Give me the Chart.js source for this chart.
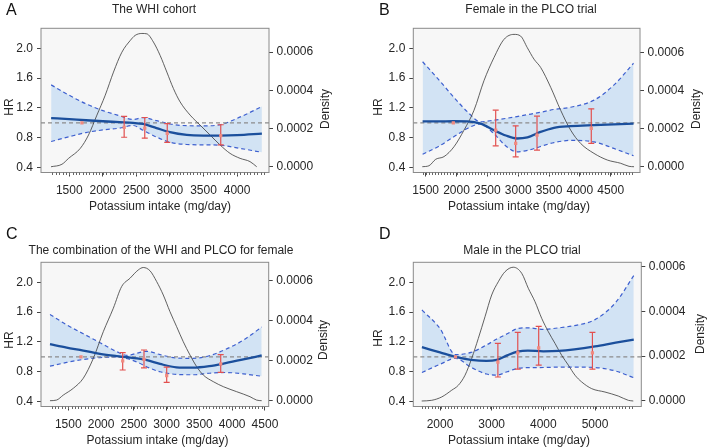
<!DOCTYPE html>
<html>
<head>
<meta charset="utf-8">
<script src="https://cdn.jsdelivr.net/npm/chart.js@4.4.1/dist/chart.umd.min.js"></script>
<style>
  html, body { margin: 0; padding: 0; background: #fff; }
  body { width: 707px; height: 448px; position: relative; overflow: hidden;
         font-family: "Liberation Sans", Arial, sans-serif; color: #262626; }
  canvas { position: absolute; }
  .txt { position: absolute; white-space: nowrap; font-size: 12px; line-height: 12px; }
  .ctr { transform: translateX(-50%); }
  .rot { transform: translate(-50%, -50%) rotate(-90deg); }
  .letter { position: absolute; font-size: 16px; line-height: 16px; color: #111; }
</style>
</head>
<body>
<canvas id="chartA" width="354" height="214" style="left:0;top:0"></canvas>
<canvas id="chartB" width="353" height="214" style="left:354px;top:0"></canvas>
<canvas id="chartC" width="354" height="214" style="left:0;top:234px"></canvas>
<canvas id="chartD" width="353" height="214" style="left:354px;top:234px"></canvas>

<div class="letter" style="left:6px;top:1.5px">A</div>
<div class="letter" style="left:379px;top:1.5px">B</div>
<div class="letter" style="left:6px;top:225.5px">C</div>
<div class="letter" style="left:379px;top:225.5px">D</div>

<div class="txt ctr" style="left:154px;top:3px">The WHI cohort</div>
<div class="txt ctr" style="left:531px;top:3px">Female in the PLCO trial</div>
<div class="txt ctr" style="left:161px;top:244px">The combination of the WHI and PLCO for female</div>
<div class="txt ctr" style="left:522px;top:244px">Male in the PLCO trial</div>

<div class="txt ctr" style="left:160px;top:200px">Potassium intake (mg/day)</div>
<div class="txt ctr" style="left:519px;top:200px">Potassium intake (mg/day)</div>
<div class="txt ctr" style="left:157.5px;top:433.5px">Potassium intake (mg/day)</div>
<div class="txt ctr" style="left:519px;top:433.5px">Potassium intake (mg/day)</div>

<div class="txt rot" style="left:9px;top:107px">HR</div>
<div class="txt rot" style="left:378px;top:107px">HR</div>
<div class="txt rot" style="left:9px;top:340px">HR</div>
<div class="txt rot" style="left:378px;top:338px">HR</div>

<div class="txt rot" style="left:325px;top:109px">Density</div>
<div class="txt rot" style="left:695.5px;top:109px">Density</div>
<div class="txt rot" style="left:322.5px;top:340px">Density</div>
<div class="txt rot" style="left:700px;top:334px">Density</div>

<script>
// tick labels
const hrTicks = [0.4, 0.8, 1.2, 1.6, 2.0];
const densityTicks = [0, 0.0002, 0.0004, 0.0006];
const intakeTicksA = [1500, 2000, 2500, 3000, 3500, 4000];
const intakeTicksB = [1500, 2000, 2500, 3000, 3500, 4000, 4500];
const intakeTicksC = [1500, 2000, 2500, 3000, 3500, 4000, 4500];
const intakeTicksD = [2000, 3000, 4000, 5000];

// A: The WHI cohort
const intakeA = [1230, 1500, 1750, 2000, 2250, 2450, 2600, 2800, 3000, 3250, 3500, 3750, 4000, 4370];
const hrA     = [1.065, 1.05, 1.035, 1.022, 1.01, 1.0, 0.985, 0.93, 0.875, 0.838, 0.83, 0.83, 0.835, 0.856];
const upperA  = [1.51, 1.37, 1.255, 1.165, 1.095, 1.045, 1.07, 1.03, 0.985, 0.962, 0.96, 0.975, 1.06, 1.218];
const lowerA  = [0.75, 0.815, 0.87, 0.905, 0.93, 0.965, 0.9, 0.81, 0.74, 0.71, 0.705, 0.70, 0.665, 0.605];
const densIntakeA = [1228, 1391, 1490, 1664, 1787, 1912, 2036, 2159, 2284, 2408, 2482, 2582, 2656, 2754, 2854, 2954, 3052, 3152, 3301, 3449, 3598, 3747, 3896, 4045, 4193, 4293];
const densityA    = [0, 1.3e-5, 4.4e-5, 9.6e-5, 1.66e-4, 2.70e-4, 3.74e-4, 4.95e-4, 5.99e-4, 6.60e-4, 6.87e-4, 6.97e-4, 6.95e-4, 6.52e-4, 5.82e-4, 4.95e-4, 4.09e-4, 3.39e-4, 2.70e-4, 2.18e-4, 1.66e-4, 1.14e-4, 7.0e-5, 4.4e-5, 2.7e-5, 0];
const qIntakeA = [2318, 2625, 2960, 3757];
const qHrA     = [0.94, 0.928, 0.86, 0.83];
const qLowA    = [0.807, 0.794, 0.738, 0.704];
const qHighA   = [1.088, 1.072, 0.99, 0.975];
const refIntakeA = 1689;

// B: Female in the PLCO trial
const intakeB = [1450, 1700, 1950, 2175, 2390, 2600, 2800, 2980, 3150, 3350, 3580, 3850, 4230, 4550, 4870];
const hrB     = [1.02, 1.02, 1.022, 1.02, 0.99, 0.905, 0.83, 0.79, 0.805, 0.875, 0.934, 0.956, 0.97, 0.98, 0.99];
const upperB  = [1.82, 1.59, 1.35, 1.15, 1.015, 1.035, 1.06, 1.085, 1.11, 1.14, 1.18, 1.21, 1.305, 1.506, 1.80];
const lowerB  = [0.58, 0.68, 0.81, 0.925, 0.985, 0.86, 0.69, 0.612, 0.63, 0.68, 0.735, 0.765, 0.745, 0.657, 0.558];
const densIntakeB = [1445, 1553, 1662, 1797, 1959, 2121, 2283, 2445, 2607, 2770, 2932, 3040, 3148, 3256, 3365, 3527, 3689, 3851, 4013, 4229, 4446, 4662, 4797, 4878];
const densityB    = [0, 5e-6, 3.9e-5, 5.3e-5, 1.05e-4, 1.92e-4, 2.96e-4, 4.52e-4, 5.73e-4, 6.69e-4, 6.95e-4, 6.86e-4, 6.25e-4, 5.65e-4, 5.21e-4, 4.17e-4, 2.96e-4, 1.92e-4, 1.22e-4, 7.0e-5, 3.5e-5, 1.8e-5, 2e-6, 0];
const qIntakeB = [2635, 2959, 3305, 4185];
const qHrB     = [0.903, 0.724, 0.836, 0.925];
const qLowB    = [0.692, 0.545, 0.635, 0.724];
const qHighB   = [1.171, 0.96, 1.09, 1.188];
const refIntakeB = 1948;

// C: WHI + PLCO, female
const intakeC = [1221, 1476, 1729, 1984, 2238, 2400, 2550, 2700, 2900, 3150, 3400, 3650, 3900, 4170, 4450];
const hrC     = [1.17, 1.125, 1.085, 1.04, 1.01, 0.995, 0.98, 0.955, 0.905, 0.86, 0.855, 0.875, 0.915, 0.965, 1.02];
const upperC  = [1.57, 1.43, 1.31, 1.19, 1.07, 1.02, 1.05, 1.075, 1.03, 0.985, 0.98, 1.015, 1.1, 1.224, 1.40];
const lowerC  = [0.875, 0.925, 0.965, 0.99, 0.998, 0.975, 0.93, 0.865, 0.8, 0.765, 0.76, 0.78, 0.79, 0.772, 0.74];
const densIntakeC = [1221, 1320, 1424, 1577, 1729, 1882, 2034, 2187, 2314, 2443, 2568, 2644, 2746, 2848, 2949, 3051, 3153, 3254, 3356, 3458, 3559, 3712, 3865, 4068, 4272, 4373, 4450];
const densityC    = [0, 3e-6, 2.8e-5, 6.2e-5, 1.12e-4, 2.11e-4, 3.44e-4, 4.61e-4, 5.69e-4, 6.11e-4, 6.52e-4, 6.64e-4, 6.48e-4, 5.94e-4, 5.27e-4, 4.44e-4, 3.69e-4, 2.94e-4, 2.28e-4, 1.70e-4, 1.28e-4, 9.5e-5, 7.0e-5, 4.5e-5, 2.0e-5, 3e-6, 0];
const qIntakeC = [2330, 2655, 3001, 3825];
const qHrC     = [0.945, 0.967, 0.75, 0.905];
const qLowC    = [0.824, 0.851, 0.657, 0.791];
const qHighC   = [1.057, 1.092, 0.862, 1.03];
const refIntakeC = 1694;

// D: Male in the PLCO trial
const intakeD = [1650, 2000, 2300, 2600, 2900, 3100, 3300, 3500, 3700, 4000, 4300, 4600, 5000, 5400, 5750];
const hrD     = [1.13, 1.06, 1.0, 0.96, 0.945, 0.96, 1.02, 1.07, 1.085, 1.075, 1.08, 1.1, 1.14, 1.19, 1.23];
const upperD  = [1.63, 1.38, 1.03, 1.06, 1.16, 1.24, 1.31, 1.38, 1.39, 1.37, 1.39, 1.42, 1.5, 1.73, 2.09];
const lowerD  = [0.79, 0.9, 0.98, 0.86, 0.77, 0.755, 0.8, 0.845, 0.855, 0.857, 0.863, 0.863, 0.857, 0.81, 0.72];
const densIntakeD = [1646, 1839, 2033, 2226, 2354, 2484, 2613, 2741, 2871, 3000, 3128, 3258, 3418, 3581, 3709, 3839, 3968, 4097, 4226, 4355, 4484, 4613, 4742, 4936, 5193, 5451, 5645, 5741];
const densityD    = [0, 3e-6, 1.8e-5, 4.8e-5, 7.0e-5, 1.15e-4, 1.9e-4, 2.79e-4, 3.76e-4, 4.73e-4, 5.32e-4, 5.77e-4, 5.97e-4, 5.7e-4, 5.03e-4, 4.43e-4, 3.69e-4, 3.09e-4, 2.57e-4, 2.04e-4, 1.6e-4, 1.15e-4, 8.5e-5, 5.5e-5, 4.0e-5, 2.2e-5, 3e-6, 0];
const qIntakeD = [3120, 3505, 3910, 4950];
const qHrD     = [0.93, 1.055, 1.12, 1.054];
const qLowD    = [0.73, 0.835, 0.89, 0.835];
const qHighD   = [1.18, 1.33, 1.41, 1.33];
const refIntakeD = 2300;

Chart.defaults.font.family = '"Liberation Sans", Arial, sans-serif';
Chart.defaults.font.size = 12;
Chart.defaults.color = '#262626';

const toPts = (xs, ys) => xs.map((x, i) => ({ x: x, y: ys[i] }));

// vertical CI segments, broken by null points
function barPts(xs, lo, hi) {
    const out = [];
    xs.forEach((x, i) => {
        out.push({ x: x, y: lo[i] }, { x: x, y: hi[i] }, { x: x, y: null });
    });
    return out;
}

// grey plot background, frame and the small minor ticks under the x axis
const plotFrame = {
    id: 'plotFrame',
    beforeDraw(chart) {
        const { ctx, chartArea: a } = chart;
        ctx.save();
        ctx.fillStyle = '#f7f7f7';
        ctx.fillRect(a.left, a.top, a.width, a.height);
        ctx.restore();
    },
    afterDraw(chart, args, opts) {
        const { ctx, chartArea: a } = chart;
        const xs = chart.scales.x;
        ctx.save();
        ctx.strokeStyle = '#8a8a8a';
        ctx.lineWidth = 1;
        ctx.strokeRect(a.left, a.top, a.width, a.height);
        ctx.strokeStyle = '#666';
        ctx.beginPath();
        for (let v = opts.from; v <= opts.to; v += opts.step) {
            const px = Math.round(xs.getPixelForValue(v)) + 0.5;
            ctx.moveTo(px, a.bottom);
            ctx.lineTo(px, a.bottom + 2.5);
        }
        ctx.stroke();
        ctx.restore();
    }
};

const ciBlue = '#3d5fcf';
const barRed = '#e2504f';

function axisGrid() {
    return { drawOnChartArea: false, drawTicks: true, tickLength: 4, tickColor: '#444', tickWidth: 1 };
}

function makePanel(id, p) {
    new Chart(document.getElementById(id), {
        type: 'line',
        data: {
            datasets: [
                { data: toPts(p.intake, p.upper), borderColor: ciBlue, borderWidth: 1.2, borderDash: [4, 3],
                  fill: '+1', backgroundColor: 'rgba(160, 200, 240, 0.42)', pointRadius: 0,
                  cubicInterpolationMode: 'monotone', order: 6 },
                { data: toPts(p.intake, p.lower), borderColor: ciBlue, borderWidth: 1.2, borderDash: [4, 3],
                  fill: false, pointRadius: 0, cubicInterpolationMode: 'monotone', order: 5 },
                { data: [{ x: p.xMin, y: 1 }, { x: p.xMax, y: 1 }], borderColor: '#8c8c8c', borderWidth: 1.2,
                  borderDash: [4, 3], pointRadius: 0, order: 4 },
                { data: toPts(p.densIntake, p.density), yAxisID: 'y2', borderColor: '#3a3a3a', borderWidth: 0.8,
                  pointRadius: 0, cubicInterpolationMode: 'monotone', order: 3 },
                { data: toPts(p.intake, p.hr), borderColor: '#1b4f9c', borderWidth: 2.3, pointRadius: 0,
                  cubicInterpolationMode: 'monotone', order: 2 },
                { data: barPts(p.qIntake, p.qLow, p.qHigh), borderColor: barRed, borderWidth: 1.2, tension: 0,
                  spanGaps: false, pointStyle: 'line', pointRadius: 3, pointBorderColor: barRed,
                  pointBorderWidth: 1.2, order: 1 },
                { data: toPts([p.ref].concat(p.qIntake), [1].concat(p.qHr)), showLine: false, pointStyle: 'rect',
                  pointRadius: 2.3, pointBackgroundColor: '#f08a80', pointBorderWidth: 0, order: 0 }
            ]
        },
        options: {
            responsive: false,
            animation: false,
            events: [],
            layout: { padding: { top: 28.3, left: 0, right: 0, bottom: 0 } },
            plugins: {
                legend: { display: false },
                tooltip: { enabled: false },
                plotFrame: { from: p.minorFrom, to: p.minorTo, step: p.minorStep }
            },
            scales: {
                x: {
                    type: 'linear', position: 'bottom', min: p.xMin, max: p.xMax,
                    afterBuildTicks: s => { s.ticks = p.xTicks.map(v => ({ value: v })); },
                    afterFit: s => { s.height = 41.5; },
                    ticks: { callback: v => String(v), autoSkip: false, maxRotation: 0, padding: 7 },
                    grid: axisGrid(),
                    border: { display: false }
                },
                y: {
                    position: 'left', min: 0.334, max: 2.269,
                    afterBuildTicks: s => { s.ticks = hrTicks.map(v => ({ value: v })); },
                    afterFit: s => { s.width = p.leftW; },
                    ticks: { callback: v => v.toFixed(1), padding: 4 },
                    grid: axisGrid(),
                    border: { display: false }
                },
                y2: {
                    position: 'right', min: p.dMin, max: p.dMax,
                    afterBuildTicks: s => { s.ticks = densityTicks.map(v => ({ value: v })); },
                    afterFit: s => { s.width = p.rightW; },
                    ticks: { callback: v => v.toFixed(4), padding: 3.5 },
                    grid: axisGrid(),
                    border: { display: false }
                }
            }
        },
        plugins: [plotFrame]
    });
}

makePanel('chartA', {
    intake: intakeA, hr: hrA, upper: upperA, lower: lowerA,
    densIntake: densIntakeA, density: densityA,
    qIntake: qIntakeA, qHr: qHrA, qLow: qLowA, qHigh: qHighA, ref: refIntakeA,
    xTicks: intakeTicksA, xMin: 1079, xMax: 4476, dMin: -0.00003, dMax: 0.000724,
    leftW: 41, rightW: 85, minorFrom: 1250, minorTo: 4400, minorStep: 50
});
makePanel('chartB', {
    intake: intakeB, hr: hrB, upper: upperB, lower: lowerB,
    densIntake: densIntakeB, density: densityB,
    qIntake: qIntakeB, qHr: qHrB, qLow: qLowB, qHigh: qHighB, ref: refIntakeB,
    xTicks: intakeTicksB, xMin: 1299, xMax: 4975, dMin: -0.0000304, dMax: 0.000727,
    leftW: 59.3, rightW: 67, minorFrom: 1450, minorTo: 4850, minorStep: 50
});
makePanel('chartC', {
    intake: intakeC, hr: hrC, upper: upperC, lower: lowerC,
    densIntake: densIntakeC, density: densityC,
    qIntake: qIntakeC, qHr: qHrC, qLow: qLowC, qHigh: qHighC, ref: refIntakeC,
    xTicks: intakeTicksC, xMin: 1084, xMax: 4557, dMin: -0.0000289, dMax: 0.00069,
    leftW: 41, rightW: 85.3, minorFrom: 1250, minorTo: 4450, minorStep: 50
});
makePanel('chartD', {
    intake: intakeD, hr: hrD, upper: upperD, lower: lowerD,
    densIntake: densIntakeD, density: densityD,
    qIntake: qIntakeD, qHr: qHrD, qLow: qLowD, qHigh: qHighD, ref: refIntakeD,
    xTicks: intakeTicksD, xMin: 1483, xMax: 5896, dMin: -0.0000246, dMax: 0.000619,
    leftW: 59.3, rightW: 65.7, minorFrom: 1650, minorTo: 5750, minorStep: 62.5
});
</script>
</body>
</html>
